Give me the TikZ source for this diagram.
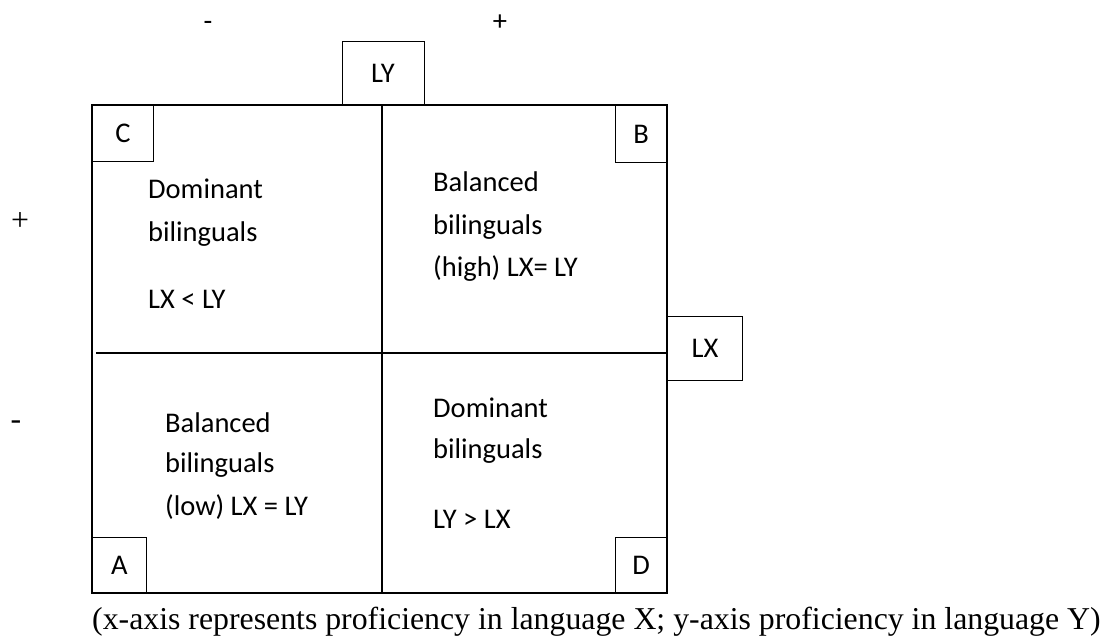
\documentclass[tikz,border=0pt]{standalone}
\usepackage{fontspec}
\setmainfont{Carlito}
\newfontfamily\timesfont{Liberation Serif}
\usetikzlibrary{positioning}

\tikzset{
  cornerbox/.style={draw, line width=0.9pt, minimum width=53pt, minimum height=56pt, inner sep=0pt},
  txt/.style={anchor=base west, inner sep=0pt},
  serif/.style={inner sep=0pt, font=\timesfont\fontsize{31.8}{34}\selectfont},
}

\begin{document}
\begin{tikzpicture}[x=1pt,y=1pt,font=\fontsize{28.5}{42}\selectfont]
\useasboundingbox (0,0) rectangle (1115,637);
\coordinate (sw) at (92,44);
\coordinate (ne) at (667,532);
\coordinate (vtop) at (382,532);
\coordinate (vbot) at (382,44);
\coordinate (hleft) at (96,284);
\coordinate (hright) at (667,284);
\draw[line width=1.2pt] (sw) rectangle (ne);
\draw[line width=1.5pt] (vtop) -- (vbot);
\draw[line width=1.5pt] (hleft) -- (hright);
\node[cornerbox, minimum width=61pt, anchor=north west] (C) at (92,532) {C};
\node[cornerbox, minimum width=51pt, minimum height=57pt, anchor=north east] (B) at (667,532) {B};
\node[cornerbox, minimum width=54pt, minimum height=55pt, anchor=south west] (A) at (92,44) {A};
\node[cornerbox, minimum width=51pt, minimum height=55pt, anchor=south east] (D) at (667,44) {D};
\node[cornerbox, minimum width=82pt, minimum height=63pt, anchor=south] (LY) at (383,532) {LY};
\node[cornerbox, minimum width=75pt, minimum height=64pt, anchor=west] (LX) at (667,289) {LX};
\node[txt] (c1) at (148,438) {Dominant};
\node[txt] (c2) at (148,395) {bilinguals};
\node[txt] (c3) at (148,328) {LX < LY};
\node[txt] (b1) at (433,445) {Balanced};
\node[txt] (b2) at (433,402) {bilinguals};
\node[txt] (b3) at (433,360) {(high) LX= LY};
\node[txt] (a1) at (165,204) {Balanced};
\node[txt] (a2) at (165,164) {bilinguals};
\node[txt] (a3) at (165,122) {(low) LX = LY};
\node[txt] (d1) at (433,219) {Dominant};
\node[txt] (d2) at (433,178) {bilinguals};
\node[txt] (d3) at (433,109) {LY > LX};
\node[inner sep=0pt, anchor=base] (xminus) at (208,606) {-};
\node[inner sep=0pt, anchor=base] (xplus) at (500,606) {+};
\node[serif, anchor=base] (yplus) at (20,406) {+};
\node[serif, anchor=base] (yminus) at (16,207) {-};
\node[serif, anchor=base west] (caption) at (92,8) {(x-axis represents proficiency in language X; y-axis proficiency in language Y)};
\end{tikzpicture}
\end{document}
